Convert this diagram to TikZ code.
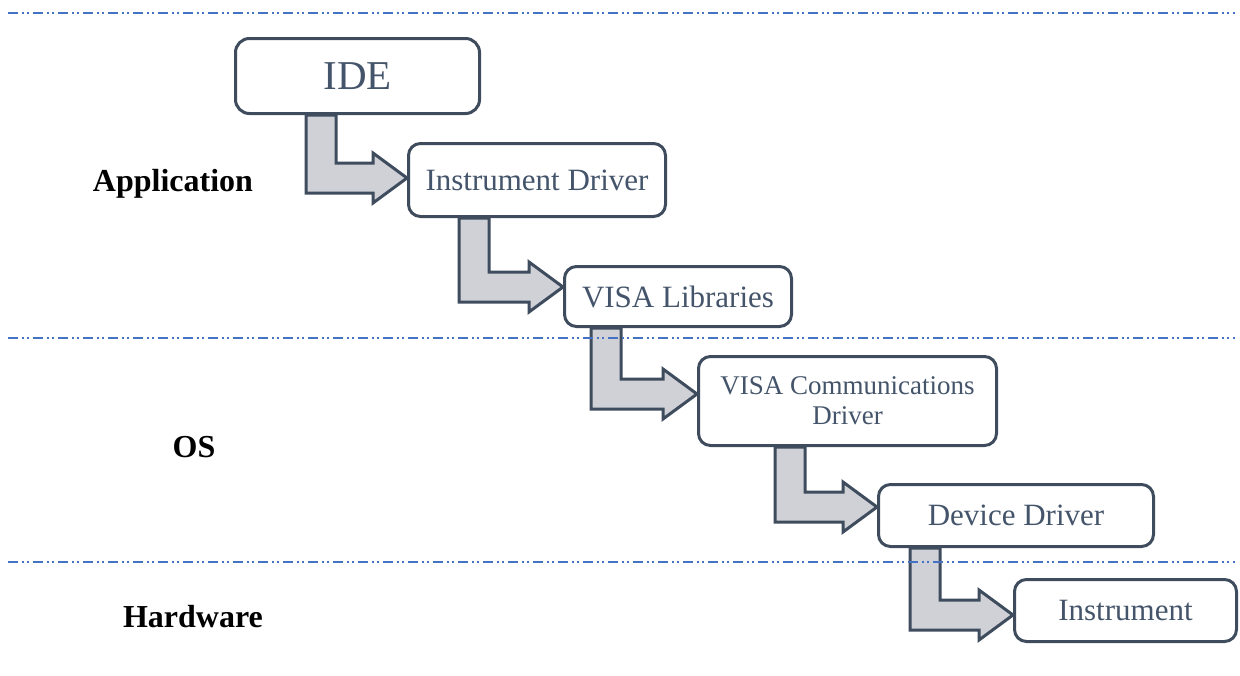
\documentclass[tikz,border=0pt]{standalone}
\usepackage{fontspec}
\setmainfont{Liberation Serif}
\usetikzlibrary{calc,backgrounds}
\definecolor{boxline}{HTML}{3E4C5E}
\definecolor{boxtext}{HTML}{44546A}
\definecolor{arrowfill}{HTML}{D0D1D6}
\definecolor{layerline}{HTML}{4472C4}

\tikzset{
  layerbox/.style={draw=boxline, line width=3pt, fill=white, rounded corners=12pt,
    text=boxtext, inner sep=0pt, align=center,
    font=\fontsize{31}{36}\selectfont},
  layerlabel/.style={inner sep=0pt, font=\fontsize{32}{36}\selectfont\bfseries},
  blockarr/.style={draw=boxline, fill=arrowfill, line width=3pt, line join=miter},
  layersep/.style={draw=layerline, line width=1.5pt,
    dash pattern=on 10pt off 4pt on 2pt off 3pt on 2pt off 4pt}
}

% bent block arrow: #1 source node, #2 target node,
% #3 left edge of the stem, #4 centre line of the horizontal bar
\newcommand\bentconn[4]{%
  \coordinate (bend-#2) at (#3,#4);
  \path[blockarr]
    (#1.south -| bend-#2)
    -- ($(bend-#2)+(0,15)$)
    -- ($(#2.west |- bend-#2)+(-34,15)$)
    -- ($(#2.west |- bend-#2)+(-34,25)$)
    -- (#2.west |- bend-#2)
    -- ($(#2.west |- bend-#2)+(-34,-25)$)
    -- ($(#2.west |- bend-#2)+(-34,-15)$)
    -- ($(bend-#2)+(30,-15)$)
    -- ($(#1.south -| bend-#2)+(30,0)$)
    -- cycle;
}

\begin{document}
\begin{tikzpicture}[x=1pt, y=-1pt]
  \useasboundingbox (0,0) rectangle (1240,675);

  % layer names
  \node[layerlabel] (lapp) at (173,184) {Application};
  \node[layerlabel] (los) at (194,447) {OS};
  \node[layerlabel] (lhw) at (193,617) {Hardware};

  % software / hardware stack
  \node[layerbox, rounded corners=14pt, minimum width=244pt, minimum height=75pt,
        font=\fontsize{41}{46}\selectfont] (ide) at (357.5,76) {IDE};
  \node[layerbox, minimum width=257pt, minimum height=73pt] (idrv) at (537,180) {Instrument Driver};
  \node[layerbox, minimum width=227pt, minimum height=60pt] (visa) at (678,296.5) {VISA Libraries};
  \node[layerbox, minimum width=298pt, minimum height=89pt,
        font=\fontsize{27}{30}\selectfont] (vcd) at (847.5,401) {VISA Communications\\Driver};
  \node[layerbox, minimum width=275pt, minimum height=62pt] (ddrv) at (1016,515.5) {Device Driver};
  \node[layerbox, minimum width=222pt, minimum height=62pt] (inst) at (1125.5,610.5) {Instrument};

  % block arrows, tucked behind the boxes
  \begin{scope}[on background layer]
    \bentconn{ide}{idrv}{306}{178}
    \bentconn{idrv}{visa}{459}{287}
    \bentconn{visa}{vcd}{591}{394}
    \bentconn{vcd}{ddrv}{775}{507}
    \bentconn{ddrv}{inst}{910}{615}
  \end{scope}

  % layer separators
  \draw[layersep] (8,13) -- (1235,13);
  \draw[layersep] (8,338) -- (1235,338);
  \draw[layersep] (8,562) -- (1235,562);
\end{tikzpicture}
\end{document}
